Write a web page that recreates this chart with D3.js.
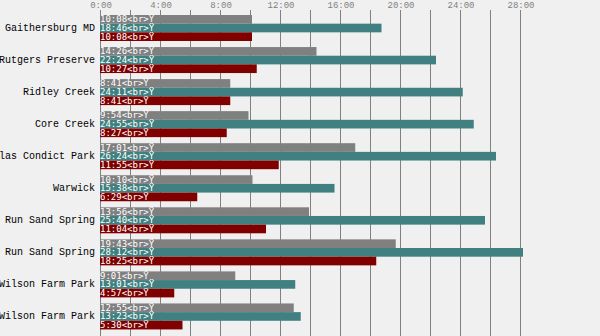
<!DOCTYPE html>
<html><head><meta charset="utf-8">
<script src="https://cdn.jsdelivr.net/npm/d3@7"></script>
<style>html,body{margin:0;padding:0;background:#f0f0f0;overflow:hidden}</style>
</head><body>
<svg id="c" width="600" height="336"></svg>
<script>
const categories = ["Gaithersburg MD","Rutgers Preserve","Ridley Creek","Core Creek","Silas Condict Park","Warwick","Run Sand Spring","Run Sand Spring","Wilson Farm Park","Wilson Farm Park"];
const seriesA = ["10:08","14:26","8:41","9:54","17:01","10:10","13:56","19:43","9:01","12:55"];
const seriesB = ["18:46","22:24","24:11","24:55","26:24","15:38","25:40","28:12","13:01","13:23"];
const seriesC = ["10:08","10:27","8:41","8:27","11:55","6:29","11:04","18:25","4:57","5:30"];
const seriesColors = ["#808080","#408080","#800000"];
const gridTicks = [0,2,4,6,8,10,12,14,16,18,20,22,24,26,28];
const tickLabels = ["0:00","4:00","8:00","12:00","16:00","20:00","24:00","28:00"];

const toHours = s => { const [h,m] = s.split(":").map(Number); return h + m/60; };
const series = [seriesA, seriesB, seriesC];

const svg = d3.select("#c");
svg.append("rect").attr("width",600).attr("height",336).attr("fill","#f0f0f0");

const x = d3.scaleLinear().domain([0,28]).range([100,520]);
const y = d3.scaleBand().domain(d3.range(categories.length)).range([12,332.5]);
const ys = d3.scaleBand().domain([0,1,2]).range([3,29]);

// grid
svg.append("g").selectAll("line").data(gridTicks).join("line")
  .attr("x1",d=>x(d)+0.5).attr("x2",d=>x(d)+0.5)
  .attr("y1",10).attr("y2",336)
  .attr("stroke","#808080").attr("stroke-width",1);

// axis labels
svg.append("g").selectAll("text").data(tickLabels).join("text")
  .attr("x",d=>x(toHours(d))+1).attr("y",6)
  .attr("text-anchor","middle").attr("dominant-baseline","central")
  .attr("font-family","Liberation Mono").attr("font-size",9)
  .attr("fill","#808080").text(d=>d);

// groups
const g = svg.append("g").selectAll("g").data(categories).join("g")
  .attr("transform",(d,i)=>`translate(0,${y(i)})`);

g.append("text").attr("x",95).attr("y",ys(1)+ys.bandwidth()/2)
  .attr("text-anchor","end").attr("dominant-baseline","central")
  .attr("font-family","Liberation Mono").attr("font-size",10)
  .attr("fill","#000").text(d=>d);

g.each(function(d,i){
  const sel = d3.select(this);
  series.forEach((s,k)=>{
    sel.append("rect").attr("x",x(0)).attr("y",ys(k))
      .attr("width",x(toHours(s[i]))-x(0)).attr("height",ys.bandwidth())
      .attr("fill",seriesColors[k]);
    sel.append("text").attr("x",x(0)).attr("y",ys(k)+ys.bandwidth()/2)
      .attr("dominant-baseline","central")
      .attr("font-family","DejaVu Sans Mono").attr("font-size",9)
      .attr("fill","#fff").text(s[i] + "<br>Ÿ");
  });
});
</script>
</body></html>
